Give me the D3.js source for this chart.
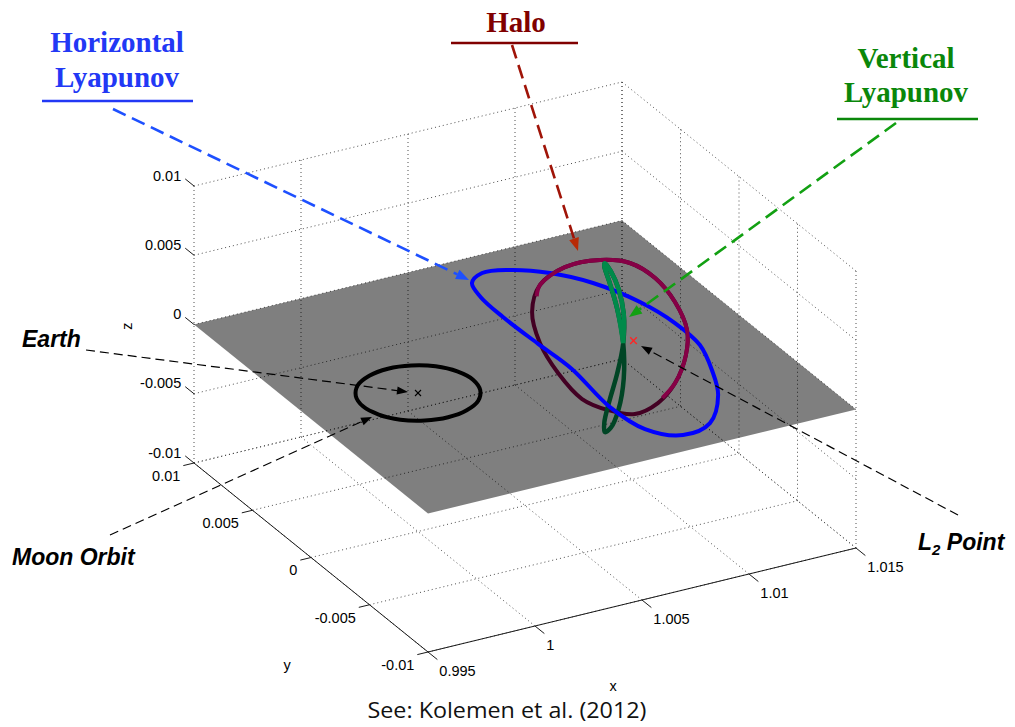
<!DOCTYPE html>
<html><head><meta charset="utf-8">
<script src="https://cdn.jsdelivr.net/npm/d3@7"></script>
<style>body{margin:0;background:#fff}svg{display:block}</style>
</head><body>
<svg id="c" width="1015" height="727"></svg>
<script>
// ---------- data ----------
const xTicks = [0.995, 1.0, 1.005, 1.01, 1.015];
const xTickLabels = ["0.995", "1", "1.005", "1.01", "1.015"];
const yTicks = [-0.01, -0.005, 0, 0.005, 0.01];
const yTickLabels = ["-0.01", "-0.005", "0", "0.005", "0.01"];
const zTicks = [-0.01, -0.005, 0, 0.005, 0.01];
const zTickLabels = ["-0.01", "-0.005", "0", "0.005", "0.01"];

const earthPos = [1.0, 0, 0];
const l2Pos = [1.01007, 0, 0];

// Moon orbit (z = 0)
const moonX = [1.00257,1.00237,1.00182,1.00098,1.00000,0.99902,0.99818,0.99763,0.99743,0.99763,0.99818,0.99902,1.00000,1.00098,1.00182,1.00237];
const moonY = [0,0.00098,0.00182,0.00237,0.00257,0.00237,0.00182,0.00098,0,-0.00098,-0.00182,-0.00237,-0.00257,-0.00237,-0.00182,-0.00098];

// Horizontal Lyapunov orbit (z = 0)
const lyapX = [1.00683,1.00764,1.00877,1.01008,1.01118,1.01202,1.01234,1.01226,1.01158,1.01069,1.00915,1.00765,1.00655,1.00627,1.00660,1.00650,1.00643,1.00652];
const lyapY = [0.00788,0.00849,0.00819,0.00715,0.00549,0.00301,0.00061,-0.00167,-0.00394,-0.00610,-0.00822,-0.00866,-0.00742,-0.00494,-0.00103,0.00165,0.00450,0.00658];

// Halo orbit
const haloX = [1.01015,1.01054,1.01055,1.01032,1.00997,1.00955,1.00886,1.00846,1.00850,1.00871,1.00870,1.00876,1.00859,1.00842,1.00867,1.00938];
const haloY = [0.00301,0.00117,-0.00097,-0.00309,-0.00476,-0.00543,-0.00577,-0.00503,-0.00299,-0.00031,0.00189,0.00405,0.00529,0.00565,0.00543,0.00460];
const haloZ = [0.00374,0.00463,0.00500,0.00480,0.00405,0.00286,0.00133,-0.00047,-0.00267,-0.00429,-0.00499,-0.00461,-0.00323,-0.00117,0.00084,0.00243];

// Vertical Lyapunov orbit
const vertX = [1.00959,1.00946,1.00916,1.00886,1.00873,1.00886,1.00916,1.00946,1.00959,1.00946,1.00916,1.00886,1.00873,1.00886,1.00916,1.00946];
const vertY = [0,0.00028,0.00040,0.00028,0,-0.00028,-0.00040,-0.00028,0,0.00028,0.00040,0.00028,0,-0.00028,-0.00040,-0.00028];
const vertZ = [0,0.00234,0.00431,0.00564,0.00610,0.00564,0.00431,0.00234,0,-0.00234,-0.00431,-0.00564,-0.00610,-0.00564,-0.00431,-0.00234];

// ---------- projection ----------
const svg = d3.select("#c");
const sx = d3.scaleLinear().domain([0.995, 1.015]).range([0, 1]);
const sy = d3.scaleLinear().domain([-0.01, 0.01]).range([0, 1]);
const sz = d3.scaleLinear().domain([-0.01, 0.01]).range([0, 1]);
const O = [428, 652], EX = [428, -104], EY = [-234, -189], EZ = [0, -277];
function P(x, y, z) {
  const u = sx(x), v = sy(y), w = sz(z);
  return [O[0] + u*EX[0] + v*EY[0] + w*EZ[0], O[1] + u*EX[1] + v*EY[1] + w*EZ[1]];
}
const P3 = p => P(p[0], p[1], p[2]);
function seg(g, a, b) {
  g.append("line").attr("x1", a[0]).attr("y1", a[1]).attr("x2", b[0]).attr("y2", b[1]);
}
const xMin = 0.995, xMax = 1.015, yMin = -0.01, yMax = 0.01, zMin = -0.01, zMax = 0.01;

// ---------- grid ----------
const gGrid = svg.append("g").attr("stroke", "#3a3a3a").attr("stroke-width", 0.9)
  .attr("stroke-dasharray", "1,3").attr("fill", "none");
xTicks.forEach(x => { seg(gGrid, P(x, yMax, zMin), P(x, yMax, zMax)); seg(gGrid, P(x, yMax, zMin), P(x, yMin, zMin)); });
zTicks.forEach(z => { seg(gGrid, P(xMin, yMax, z), P(xMax, yMax, z)); seg(gGrid, P(xMax, yMax, z), P(xMax, yMin, z)); });
yTicks.forEach(y => { seg(gGrid, P(xMax, y, zMin), P(xMax, y, zMax)); seg(gGrid, P(xMin, y, zMin), P(xMax, y, zMin)); });

// ---------- axes, ticks, labels ----------
const gAx = svg.append("g").attr("stroke", "#1a1a1a").attr("stroke-width", 1);
seg(gAx, P(xMin, yMin, zMin), P(xMax, yMin, zMin));
seg(gAx, P(xMin, yMin, zMin), P(xMin, yMax, zMin));
const tickFont = "'Liberation Sans', Arial, sans-serif";
const gLab = svg.append("g").attr("font-family", tickFont).attr("font-size", 14.5).attr("fill", "#000");
xTicks.forEach((x, i) => {
  const a = P(x, yMin, zMin), b = P(x, yMin - 0.0008, zMin);
  seg(gAx, a, b);
  gLab.append("text").attr("x", b[0] + 2).attr("y", b[1] + 12.5).attr("dominant-baseline", "middle").text(xTickLabels[i]);
});
yTicks.forEach((y, i) => {
  const a = P(xMin, y, zMin), b = P(xMin - 0.0005, y, zMin);
  seg(gAx, a, b);
  gLab.append("text").attr("x", b[0] - 3).attr("y", b[1] + 11.5).attr("text-anchor", "end").attr("dominant-baseline", "middle").text(yTickLabels[i]);
});
zTicks.forEach((z, i) => {
  const a = P(xMin, yMax, z), b = P(xMin, yMax + 0.00075, z);
  seg(gAx, a, b);
  gLab.append("text").attr("x", b[0] - 4).attr("y", b[1] - 2).attr("text-anchor", "end").attr("dominant-baseline", "middle").text(zTickLabels[i]);
});
gLab.append("text").attr("x", 613).attr("y", 687).attr("text-anchor", "middle").attr("dominant-baseline", "middle").text("x");
gLab.append("text").attr("x", 287).attr("y", 666).attr("text-anchor", "middle").attr("dominant-baseline", "middle").text("y");
gLab.append("text").attr("transform", "translate(128,326) rotate(-90)").attr("text-anchor", "middle").attr("dominant-baseline", "middle").text("z");

// ---------- orbits ----------
const halo = haloX.map((x, i) => [x, haloY[i], haloZ[i]]);
const vert = vertX.map((x, i) => [x, vertY[i], vertZ[i]]);
const moon = moonX.map((x, i) => [x, moonY[i], 0]);
const lyap = lyapX.map((x, i) => [x, lyapY[i], 0]);

const closedLine = d3.line().curve(d3.curveCatmullRomClosed.alpha(0.5));
const openLine = d3.line().curve(d3.curveCatmullRom.alpha(0.5));

function aboveRuns(pts) {
  const n = pts.length, start = pts.findIndex(p => p[2] < 0);
  if (start < 0) return [pts.concat([pts[0]])];
  const runs = []; let cur = null;
  const cross = (a, b) => { const t = a[2] / (a[2] - b[2]); return [a[0] + (b[0]-a[0])*t, a[1] + (b[1]-a[1])*t, 0]; };
  for (let k = 0; k < n; k++) {
    const a = pts[(start + k) % n], b = pts[(start + k + 1) % n];
    if (a[2] < 0 && b[2] >= 0) { cur = [cross(a, b)]; if (b[2] > 0) cur.push(b); }
    else if (a[2] >= 0 && b[2] >= 0) { cur.push(b); }
    else if (a[2] >= 0 && b[2] < 0) { if (a[2] > 0) cur.push(cross(a, b)); runs.push(cur); cur = null; }
  }
  return runs;
}

const haloColor = "#860046", vertColor = "#008a4a";
const gBelow = svg.append("g").attr("fill", "none").attr("stroke-linejoin", "round");
gBelow.append("path").attr("d", closedLine(halo.map(P3))).attr("stroke", haloColor).attr("stroke-width", 4);
gBelow.append("path").attr("d", closedLine(vert.map(P3))).attr("stroke", vertColor).attr("stroke-width", 4.5);

// plane z = 0 (semi-transparent)
const planeCorners = [[xMin, yMin], [xMax, yMin], [xMax, yMax], [xMin, yMax]];
svg.append("path").attr("d", "M" + planeCorners.map(c => P(c[0], c[1], 0).join(",")).join("L") + "Z")
  .attr("fill", "#000").attr("fill-opacity", 0.5);

const gOn = svg.append("g").attr("fill", "none").attr("stroke-linejoin", "round");
gOn.append("path").attr("d", closedLine(moon.map(P3))).attr("stroke", "#000").attr("stroke-width", 4);
gOn.append("path").attr("d", closedLine(lyap.map(P3))).attr("stroke", "#0000ff").attr("stroke-width", 4);
aboveRuns(halo).forEach(r => gOn.append("path").attr("d", openLine(r.map(P3))).attr("stroke", haloColor).attr("stroke-width", 4).attr("stroke-linecap", "butt"));
aboveRuns(vert).forEach(r => gOn.append("path").attr("d", openLine(r.map(P3))).attr("stroke", vertColor).attr("stroke-width", 4.5).attr("stroke-linecap", "butt"));

// markers
function xMark(p, s, color, w) {
  const g = svg.append("g").attr("stroke", color).attr("stroke-width", w);
  seg(g, [p[0]-s, p[1]-s], [p[0]+s, p[1]+s]);
  seg(g, [p[0]-s, p[1]+s], [p[0]+s, p[1]-s]);
}
xMark(P3(earthPos), 3, "#000", 1.1);
xMark(P3(l2Pos), 3.3, "#ff2525", 1.4);

// ---------- annotations ----------
function arrow(from, to, color, width, dash, headLen, headW, headColor) {
  const dx = to[0] - from[0], dy = to[1] - from[1], L = Math.hypot(dx, dy);
  const ux = dx / L, uy = dy / L;
  const base = [to[0] - ux*headLen, to[1] - uy*headLen];
  svg.append("line").attr("x1", from[0]).attr("y1", from[1]).attr("x2", base[0]).attr("y2", base[1])
    .attr("stroke", color).attr("stroke-width", width).attr("stroke-dasharray", dash);
  const px = -uy * headW / 2, py = ux * headW / 2;
  svg.append("path").attr("d", `M${to[0]},${to[1]}L${base[0]+px},${base[1]+py}L${base[0]-px},${base[1]-py}Z`)
    .attr("fill", headColor || color);
}
arrow([113, 109], [469, 280], "#1e50ff", 2.6, "14,7", 13, 10);
arrow([512, 45], [578, 251], "#a01408", 2.6, "14,7", 13, 10, "#b82a06");
arrow([896, 123], [629, 317], "#12a012", 2.6, "14,7", 13, 10);
arrow([86, 350], [408, 392], "#000", 1.2, "9,5", 11, 8);
arrow([110, 535], [372, 417], "#000", 1.2, "9,5", 11, 8);
arrow([958, 515], [641, 346], "#000", 1.2, "9,5", 11, 8);

const serif = "'Liberation Serif', 'Times New Roman', serif";
function title(lines, cx, baselines, color, underY, ux1, ux2) {
  lines.forEach((t, i) => svg.append("text").attr("x", cx).attr("y", baselines[i]).attr("text-anchor", "middle")
    .attr("font-family", serif).attr("font-weight", "bold").attr("font-size", 29).attr("fill", color).text(t));
  svg.append("line").attr("x1", ux1).attr("x2", ux2).attr("y1", underY).attr("y2", underY).attr("stroke", color).attr("stroke-width", 2.6);
}
title(["Horizontal", "Lyapunov"], 117, [52, 87], "#2238f5", 101, 42, 193);
title(["Halo"], 516, [32], "#800000", 43, 451, 578);
title(["Vertical", "Lyapunov"], 906, [68, 102], "#0a870a", 119, 837, 978);

const sansBI = "'Liberation Sans', Arial, sans-serif";
const gA = svg.append("g").attr("font-family", sansBI).attr("font-weight", "bold").attr("font-style", "italic").attr("font-size", 23).attr("fill", "#000");
gA.append("text").attr("x", 22).attr("y", 347).text("Earth");
gA.append("text").attr("x", 12).attr("y", 565).text("Moon Orbit");
const l2t = gA.append("text").attr("x", 918).attr("y", 550);
l2t.append("tspan").text("L");
l2t.append("tspan").attr("font-size", 15).attr("dy", 5).text("2");
l2t.append("tspan").attr("dy", -5).text(" Point");

svg.append("text").attr("x", 507).attr("y", 718).attr("text-anchor", "middle")
  .attr("font-family", "'Open Sans', 'Noto Sans', sans-serif").attr("font-size", 21)
  .attr("textLength", 279).attr("lengthAdjust", "spacingAndGlyphs").attr("fill", "#111")
  .text("See: Kolemen et al. (2012)");
</script>
</body></html>
